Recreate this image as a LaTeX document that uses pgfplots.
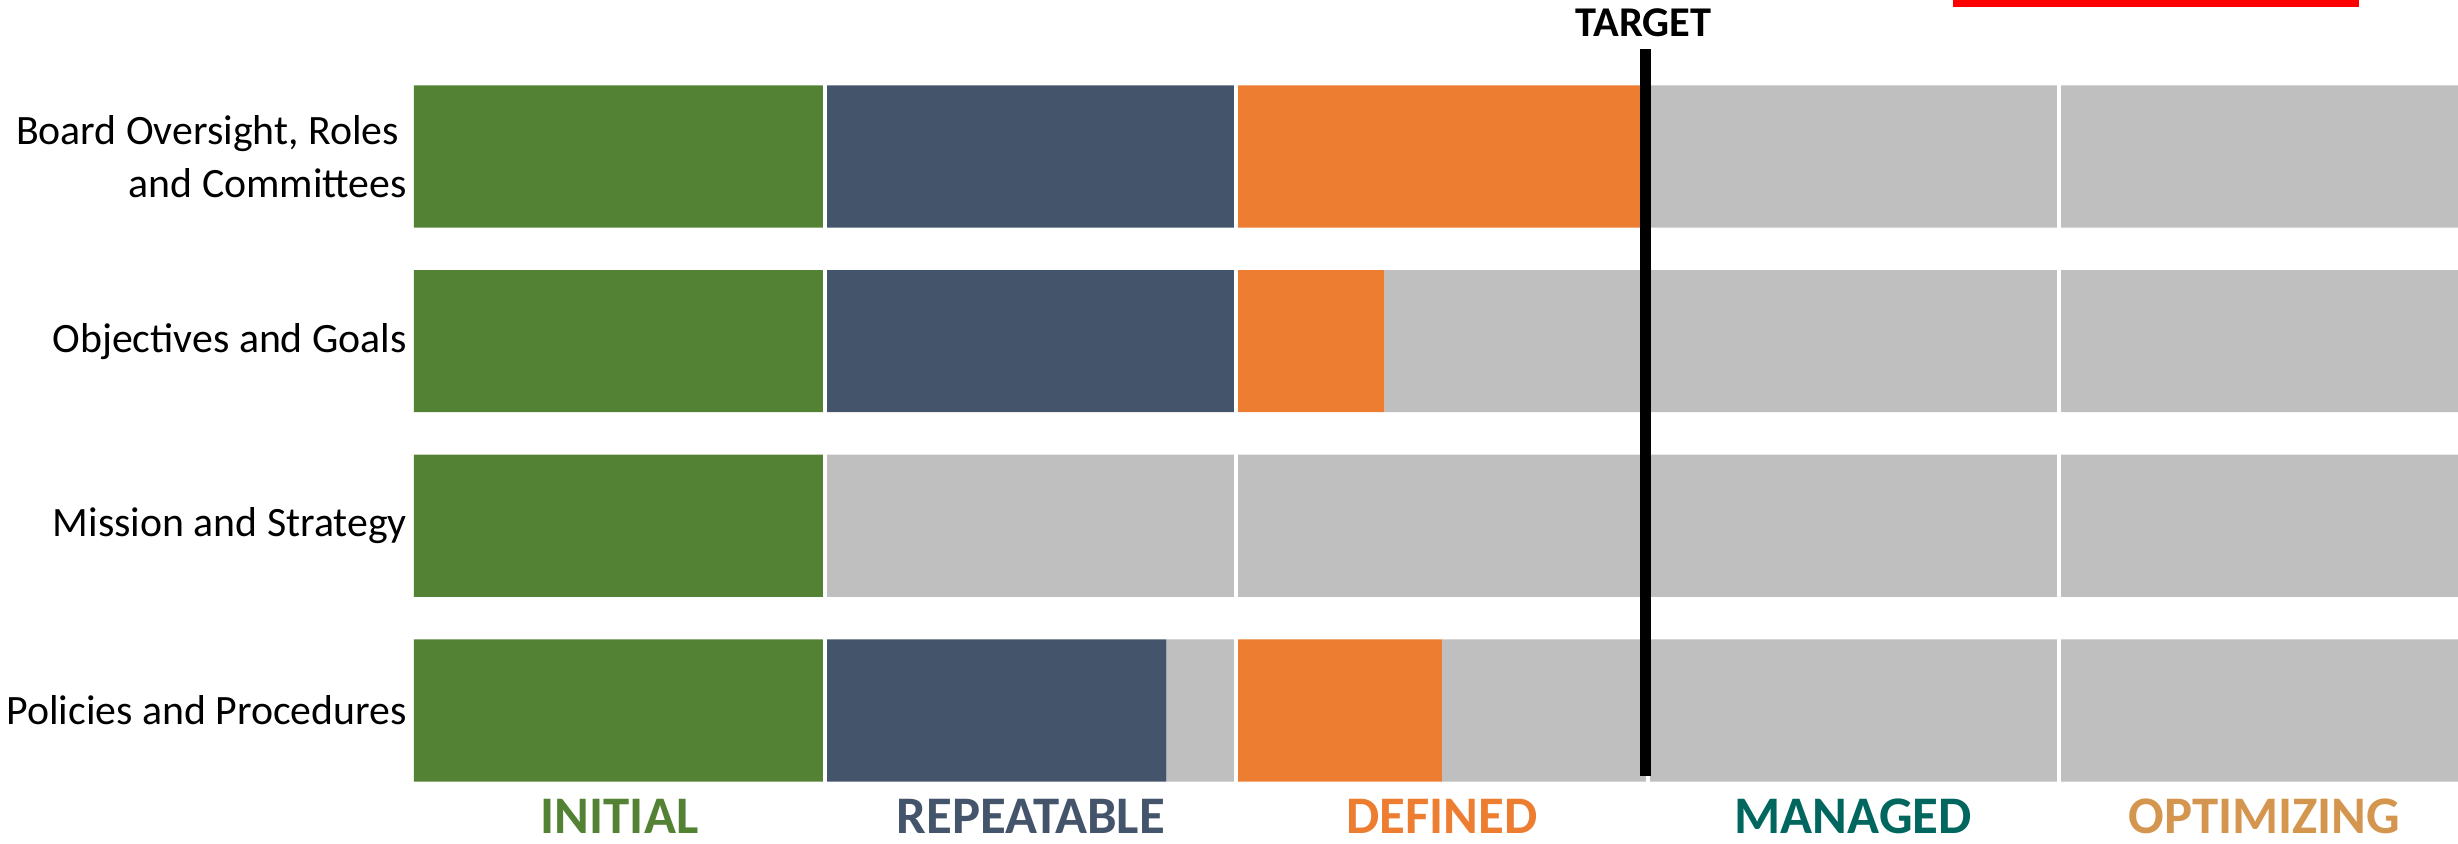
\documentclass[border=0pt]{standalone}
\usepackage{pgfplots}
\pgfplotsset{compat=1.18}
\usepackage{pgfplotstable}
\usepackage{fontspec}
\setmainfont{Carlito}

\definecolor{initial}{HTML}{548235}
\definecolor{repeatable}{HTML}{44546A}
\definecolor{defined}{HTML}{ED7D31}
\definecolor{managed}{HTML}{00665E}
\definecolor{optimizing}{HTML}{D4964F}
\definecolor{empty}{HTML}{BFBFBF}

% maturity reached in each level (filled part) and the remainder (grey part)
% row: 0 = Policies, 1 = Mission, 2 = Objectives, 3 = Board
\pgfplotstableread{
row I   Ig  R    Rg   D    Dg   M  Mg  O  Og
0   1   0   0.83 0.17 0.50 0.50 0  1   0  1
1   1   0   0    1    0    1    0  1   0  1
2   1   0   1    0    0.36 0.64 0  1   0  1
3   1   0   1    0    1    0    0  1   0  1
}\maturity

\pgfplotsset{
  frame/.style={
    scale only axis,
    width=614.5pt, height=211pt,
    xmin=-1.0068, xmax=4.971,
    ymin=-0.723, ymax=3.847,
    hide axis,
  },
}

\begin{document}
\begin{tikzpicture}
% level bars
\begin{axis}[frame, xbar stacked, bar width=0.77]
  \addplot[fill=initial, draw=none]    table[x=I,  y=row]{\maturity};
  \addplot[fill=empty, draw=none]      table[x=Ig, y=row]{\maturity};
  \addplot[fill=repeatable, draw=none] table[x=R,  y=row]{\maturity};
  \addplot[fill=empty, draw=none]      table[x=Rg, y=row]{\maturity};
  \addplot[fill=defined, draw=none]    table[x=D,  y=row]{\maturity};
  \addplot[fill=empty, draw=none]      table[x=Dg, y=row]{\maturity};
  \addplot[fill=managed, draw=none]    table[x=M,  y=row]{\maturity};
  \addplot[fill=empty, draw=none]      table[x=Mg, y=row]{\maturity};
  \addplot[fill=optimizing, draw=none] table[x=O,  y=row]{\maturity};
  \addplot[fill=empty, draw=none]      table[x=Og, y=row]{\maturity};
  \path (rel axis cs:0,0) rectangle (rel axis cs:1,1);
\end{axis}

% separators, target line and labels
\begin{axis}[frame, clip=false]
  % white gaps between the levels
  \pgfplotsinvokeforeach{1,2,3,4}{
    \addplot[white, line width=1pt, forget plot] coordinates {(#1,-0.45) (#1,3.45)};
  }
  \addplot[black, line width=2.75pt] coordinates {(2.994,-0.355) (2.994,3.582)};
  \node[anchor=base, inner sep=0pt, font=\fontsize{10.6}{12}\selectfont\bfseries] at (axis cs:2.99,3.647) {TARGET};
  \addplot[fill=red, draw=none] coordinates {(3.743,3.809) (4.730,3.809) (4.730,3.847) (3.743,3.847)} -- cycle;

  \begin{scope}[every node/.style={anchor=east, align=right, inner sep=0pt, font=\fontsize{10.45}{13.2}\selectfont}]
    \node at (axis cs:-0.0156,3) {Board Oversight, Roles\hspace*{2pt}\\and Committees};
    \node at (axis cs:-0.0156,2) {Objectives and Goals};
    \node at (axis cs:-0.0156,1) {Mission and Strategy};
    \node at (axis cs:-0.0156,0) {Policies and Procedures};
  \end{scope}

  \begin{scope}[every node/.style={anchor=base, inner sep=0pt, font=\fontsize{13.2}{15}\selectfont\bfseries}]
    \node[text=initial]    at (axis cs:0.5,-0.665) {INITIAL};
    \node[text=repeatable] at (axis cs:1.5,-0.665) {REPEATABLE};
    \node[text=defined]    at (axis cs:2.5,-0.665) {DEFINED};
    \node[text=managed]    at (axis cs:3.5,-0.665) {MANAGED};
    \node[text=optimizing] at (axis cs:4.5,-0.665) {OPTIMIZING};
  \end{scope}
\end{axis}
\end{tikzpicture}
\end{document}
